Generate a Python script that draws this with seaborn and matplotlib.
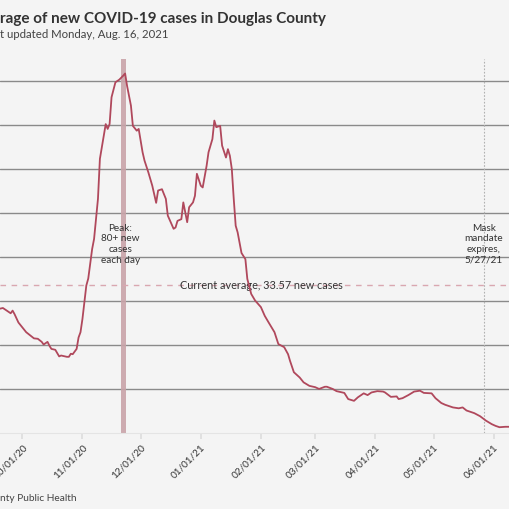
import numpy as np
import pandas as pd
import matplotlib
matplotlib.use("Agg")
import matplotlib.pyplot as plt
import matplotlib.dates as mdates
import seaborn as sns

# seven-day average of new cases
dates = [
    "2020-09-18", "2020-09-20", "2020-09-21", "2020-09-23", "2020-09-25", "2020-09-26",
    "2020-09-27", "2020-09-29", "2020-10-01", "2020-10-03", "2020-10-07", "2020-10-09",
    "2020-10-11", "2020-10-12", "2020-10-14", "2020-10-15", "2020-10-16", "2020-10-18",
    "2020-10-20", "2020-10-21", "2020-10-24", "2020-10-25", "2020-10-26", "2020-10-27",
    "2020-10-29", "2020-10-30", "2020-10-31", "2020-11-01", "2020-11-02", "2020-11-03",
    "2020-11-04", "2020-11-06", "2020-11-07", "2020-11-09", "2020-11-10", "2020-11-12",
    "2020-11-13", "2020-11-14", "2020-11-15", "2020-11-16", "2020-11-18", "2020-11-20",
    "2020-11-22", "2020-11-23", "2020-11-24", "2020-11-26", "2020-11-27", "2020-11-29",
    "2020-11-30", "2020-12-02", "2020-12-03", "2020-12-05", "2020-12-07", "2020-12-09",
    "2020-12-10", "2020-12-12", "2020-12-14", "2020-12-15", "2020-12-18", "2020-12-19",
    "2020-12-20", "2020-12-22", "2020-12-23", "2020-12-24", "2020-12-25", "2020-12-26",
    "2020-12-28", "2020-12-29", "2020-12-30", "2021-01-01", "2021-01-02", "2021-01-04",
    "2021-01-05", "2021-01-07", "2021-01-08", "2021-01-09", "2021-01-11", "2021-01-12",
    "2021-01-14", "2021-01-15", "2021-01-16", "2021-01-17", "2021-01-18", "2021-01-19",
    "2021-01-20", "2021-01-22", "2021-01-24", "2021-01-25", "2021-01-27", "2021-01-29",
    "2021-02-01", "2021-02-03", "2021-02-05", "2021-02-08", "2021-02-10", "2021-02-13",
    "2021-02-15", "2021-02-16", "2021-02-18", "2021-02-21", "2021-02-23", "2021-02-26",
    "2021-03-01", "2021-03-03", "2021-03-06", "2021-03-07", "2021-03-10", "2021-03-12",
    "2021-03-16", "2021-03-18", "2021-03-21", "2021-03-23", "2021-03-26", "2021-03-28",
    "2021-03-30", "2021-04-02", "2021-04-05", "2021-04-06", "2021-04-09", "2021-04-12",
    "2021-04-13", "2021-04-15", "2021-04-18", "2021-04-21", "2021-04-24", "2021-04-26",
    "2021-04-30", "2021-05-02", "2021-05-05", "2021-05-07", "2021-05-11", "2021-05-14",
    "2021-05-16", "2021-05-18", "2021-05-22", "2021-05-25", "2021-05-28", "2021-05-31",
    "2021-06-02", "2021-06-04", "2021-06-07", "2021-06-10",
]
cases = [
    28.0, 28.2, 28.3, 27.7, 27.1, 27.7,
    26.9, 25.0, 23.9, 22.8, 21.4, 21.3,
    20.6, 20.0, 20.6, 19.7, 19.0, 18.8,
    17.3, 17.5, 17.2, 17.2, 17.9, 17.8,
    19.0, 21.6, 22.8, 25.8, 29.6, 33.4,
    35.0, 41.7, 44.0, 53.1, 62.2, 67.5,
    70.1, 69.0, 70.1, 76.2, 79.6, 80.2,
    81.1, 81.6, 78.8, 74.3, 69.7, 68.6,
    69.0, 63.7, 61.8, 59.1, 56.1, 52.2,
    55.0, 55.3, 53.1, 49.3, 46.3, 46.6,
    48.1, 48.5, 52.3, 50.0, 47.8, 51.2,
    52.3, 53.8, 58.8, 56.1, 55.7, 60.6,
    63.7, 66.7, 70.9, 69.4, 69.7, 65.2,
    62.5, 64.4, 62.9, 59.9, 53.1, 47.0,
    45.5, 40.8, 39.4, 34.9, 31.5, 30.0,
    28.5, 26.5, 25.0, 22.8, 20.1, 19.4,
    17.8, 16.3, 13.7, 12.5, 11.4, 10.6,
    10.3, 9.9, 10.4, 10.4, 9.9, 9.4,
    9.0, 7.6, 7.2, 8.0, 8.9, 8.5,
    9.1, 9.4, 9.3, 9.1, 8.1, 8.2,
    7.6, 7.8, 8.5, 9.3, 9.5, 9.0,
    8.9, 7.8, 6.7, 6.3, 5.7, 5.5,
    5.7, 5.0, 4.4, 3.7, 2.7, 1.9,
    1.5, 1.2, 1.3, 1.3,
]

current_avg = 33.57
peak_date = "2020-11-22"
mask_date = "2021-05-27"
month_ticks = pd.date_range("2020-10-01", "2021-06-01", freq="MS")

# text as it shows in the (cropped) view
title = "rage of new COVID-19 cases in Douglas County"
subtitle = "t updated Monday, Aug. 16, 2021"
source = "nty Public Health"

df = pd.DataFrame({"date": pd.to_datetime(dates), "cases": cases})

bg = "#f4f4f4"
line_c = "#b0485c"

sns.set_theme(style="white")
plt.rcParams["font.family"] = ["Lato", "DejaVu Sans"]

fig = plt.figure(figsize=(5.1, 5.1), dpi=100, facecolor=bg)
ax = fig.add_axes([0.0, 0.15, 1.0, 0.7324])
ax.set_facecolor(bg)

# grid lines every 10 cases
for v in range(10, 90, 10):
    ax.axhline(v, color="#8a8a8a", lw=1.0, zorder=1)

# peak band
pk = pd.Timestamp(peak_date)
ax.axvspan(pk - pd.Timedelta(hours=33), pk + pd.Timedelta(hours=33),
           color="#c9a3a9", alpha=0.9, lw=0, zorder=2)

# mask mandate marker
ax.axvline(pd.Timestamp(mask_date), color="#b0b0b0", lw=0.8, ls=(0, (1.5, 1.5)), zorder=2)

# current average
ax.axhline(current_avg, color="#d9a7b0", lw=1.0, ls=(0, (4, 4)), zorder=2)

sns.lineplot(data=df, x="date", y="cases", ax=ax, color=line_c, lw=1.3, zorder=4)

ax.text(pd.Timestamp("2021-02-01"), current_avg + 0.1, "Current average, 33.57 new cases",
        ha="center", va="center", fontsize=7.8, color="#333333", zorder=3)
ax.text(pk - pd.Timedelta(days=1.5), 43.0, "Peak:\n80+ new\ncases\neach day",
        ha="center", va="center", fontsize=7.2, color="#333333", linespacing=1.25, zorder=3)
ax.text(pd.Timestamp(mask_date), 43.0, "Mask\nmandate\nexpires,\n5/27/21",
        ha="center", va="center", fontsize=7.2, color="#333333", linespacing=1.25, zorder=3)

ax.set_xlim(pd.Timestamp("2020-09-19 12:00"), pd.Timestamp("2021-06-09 10:00"))
ax.set_ylim(0, 84.9)
ax.set_xticks(month_ticks)
ax.xaxis.set_major_formatter(mdates.DateFormatter("%m/%d/%y"))
ax.tick_params(axis="x", length=4, color="#dddddd", labelsize=7.2, labelcolor="#333333",
               bottom=True, pad=3)
plt.setp(ax.get_xticklabels(), rotation=45, ha="right", rotation_mode="anchor")
ax.set_yticks([])
ax.set_xlabel("")
ax.set_ylabel("")
for s in ["top", "left", "right"]:
    ax.spines[s].set_visible(False)
ax.spines["bottom"].set_color("#e4e4e4")
ax.spines["bottom"].set_linewidth(0.8)

fig.text(0.0, 1 - 23 / 510, title, ha="left", va="baseline",
         fontsize=11.0, fontweight="bold", color="#333333")
fig.text(0.0, 1 - 38.5 / 510, subtitle, ha="left", va="baseline",
         fontsize=8.2, color="#444444")
fig.text(0.0, 1 - 501 / 510, source, ha="left", va="baseline",
         fontsize=7.3, color="#444444")

fig.savefig("out.png", dpi=100, facecolor=bg)
